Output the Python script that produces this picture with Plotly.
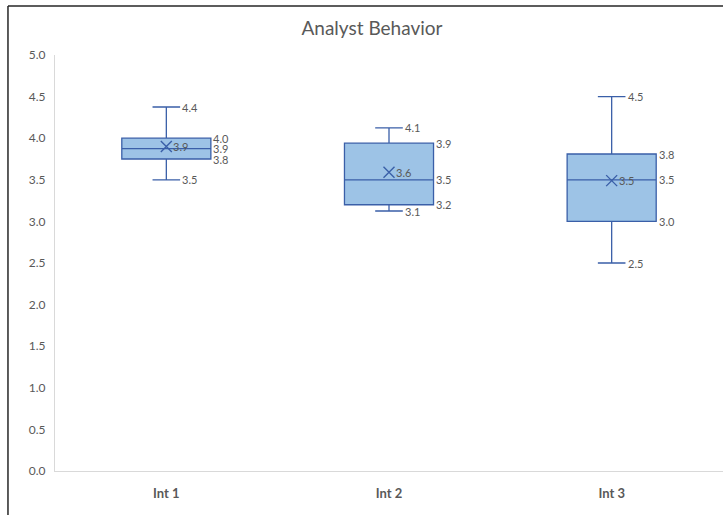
import plotly.graph_objects as go

# Summary statistics for each interview round
categories = ["Int 1", "Int 2", "Int 3"]
lower_whisker = [3.5, 3.125, 2.5]
q1 = [3.75, 3.2, 3.0]
median = [3.875, 3.5, 3.5]
q3 = [4.0, 3.94, 3.81]
upper_whisker = [4.375, 4.125, 4.5]
mean = [3.9, 3.59, 3.49]

y_ticks = [0.0, 0.5, 1.0, 1.5, 2.0, 2.5, 3.0, 3.5, 4.0, 4.5, 5.0]

LINE = "#3A5FA8"
FILL = "#9DC3E6"
TEXT = "#595959"
FONT = "Lato"

fig = go.Figure()

fig.add_trace(go.Box(
    x=categories,
    q1=q1,
    median=median,
    q3=q3,
    lowerfence=lower_whisker,
    upperfence=upper_whisker,
    width=0.4,
    whiskerwidth=0.31,
    fillcolor=FILL,
    line=dict(color=LINE, width=1.3),
    boxpoints=False,
    showlegend=False,
    hoverinfo="skip",
))

fig.add_trace(go.Scatter(
    x=categories,
    y=mean,
    mode="markers",
    marker=dict(symbol="x-thin", size=11, line=dict(color=LINE, width=1.4)),
    showlegend=False,
    hoverinfo="skip",
))

# Value labels: whisker ends beside the caps, box edges beside the box,
# means beside the cross
label_sets = [
    (upper_whisker, 14),
    (lower_whisker, 14),
    (q3, 45),
    (median, 45),
    (q1, 45),
    (mean, 5),
]
annotations = []
for values, shift in label_sets:
    for cat, v in zip(categories, values):
        annotations.append(dict(
            x=cat, y=v, xref="x", yref="y",
            text=f"{v:.1f}", showarrow=False,
            xanchor="left", yanchor="middle", xshift=shift,
            font=dict(family=FONT, size=11, color=TEXT),
        ))

# Frame lines along the top and left of the chart area
shapes = [
    dict(type="line", xref="paper", yref="paper",
         x0=-0.0704, x1=1.0, y0=1.1178, y1=1.1178,
         line=dict(color="#262626", width=1.5)),
    dict(type="line", xref="paper", yref="paper",
         x0=-0.0704, x1=-0.0704, y0=1.1178, y1=-0.11,
         line=dict(color="#262626", width=1.5)),
]

fig.update_layout(
    width=723,
    height=515,
    margin=dict(l=55, r=0, t=55, b=44),
    paper_bgcolor="white",
    plot_bgcolor="white",
    title=dict(
        text="Analyst Behavior",
        x=0.5145, xref="container", xanchor="center",
        y=0.9456, yref="container", yanchor="middle",
        font=dict(family=FONT, size=19, color=TEXT),
    ),
    xaxis=dict(
        type="category",
        range=[-0.5, 2.5],
        showgrid=False,
        showline=True,
        linecolor="#D9D9D9",
        linewidth=1,
        ticks="",
        ticklabelstandoff=10,
        tickfont=dict(family=FONT, size=13, color=TEXT, weight="bold"),
        fixedrange=True,
    ),
    yaxis=dict(
        range=[0, 5.0],
        tickvals=y_ticks,
        ticktext=[f"{t:.1f}" for t in y_ticks],
        showgrid=False,
        zeroline=False,
        showline=True,
        linecolor="#D9D9D9",
        linewidth=1,
        ticks="",
        ticklabelstandoff=6,
        tickfont=dict(family=FONT, size=12, color=TEXT),
        fixedrange=True,
    ),
    annotations=annotations,
    shapes=shapes,
    font=dict(family=FONT, color=TEXT),
)

fig.write_html("out.html")
